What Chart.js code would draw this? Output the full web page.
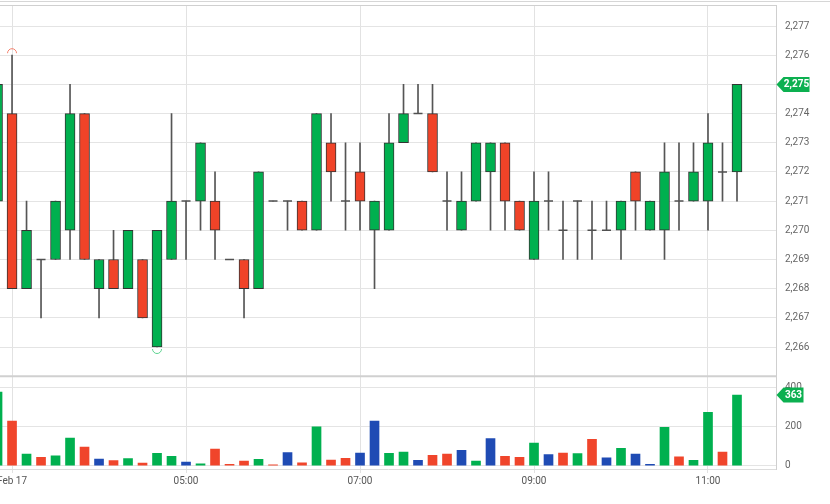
<!DOCTYPE html>
<html lang="en">
<head>
<meta charset="UTF-8">
<title>Candles and volume</title>
<script src="https://cdn.jsdelivr.net/npm/chart.js@4.4.2/dist/chart.umd.min.js"></script>
<style>
  html, body { margin: 0; padding: 0; background: #fff; }
  #wrap { position: relative; width: 830px; height: 504px; }
  #topline { position: absolute; left: 0; top: 1px; width: 830px; height: 1px; background: #d6d6d6; }
</style>
</head>
<body>
<div id="wrap">
  <canvas id="chart" width="830" height="504"></canvas>
  <div id="topline"></div>
</div>
<script>
// --- data (10 minute candles) ---
const times = [
  '02:50', '03:00', '03:10', '03:20', '03:30', '03:40', '03:50',
  '04:00', '04:10', '04:20', '04:30', '04:40', '04:50',
  '05:00', '05:10', '05:20', '05:30', '05:40', '05:50',
  '06:00', '06:10', '06:20', '06:30', '06:40', '06:50',
  '07:00', '07:10', '07:20', '07:30', '07:40', '07:50',
  '08:00', '08:10', '08:20', '08:30', '08:40', '08:50',
  '09:00', '09:10', '09:20', '09:30', '09:40', '09:50',
  '10:00', '10:10', '10:20', '10:30', '10:40', '10:50',
  '11:00', '11:10', '11:20'
];
const opens = [
  2271, 2274, 2268, 2269, 2269, 2270, 2274,
  2268, 2269, 2268, 2269, 2266, 2269,
  2271, 2271, 2271, 2269, 2269, 2268,
  2271, 2271, 2271, 2270, 2273, 2271,
  2272, 2270, 2270, 2273, 2274, 2274,
  2271, 2270, 2271, 2272, 2273, 2271,
  2269, 2271, 2270, 2271, 2270, 2270,
  2270, 2272, 2270, 2270, 2271, 2271,
  2271, 2272, 2272
];
const highs = [
  2275, 2276, 2271, 2269, 2271, 2275, 2274,
  2269, 2270, 2270, 2269, 2270, 2274,
  2271, 2273, 2272, 2269, 2269, 2272,
  2271, 2271, 2271, 2274, 2274, 2273,
  2273, 2271, 2274, 2275, 2275, 2275,
  2272, 2272, 2273, 2273, 2273, 2271,
  2272, 2272, 2271, 2271, 2271, 2271,
  2271, 2272, 2271, 2273, 2273, 2273,
  2274, 2273, 2275
];
const lows = [
  2271, 2268, 2268, 2267, 2269, 2269, 2269,
  2267, 2268, 2268, 2267, 2266, 2269,
  2269, 2270, 2269, 2269, 2267, 2268,
  2271, 2270, 2270, 2270, 2271, 2270,
  2270, 2268, 2270, 2273, 2274, 2272,
  2270, 2270, 2271, 2270, 2270, 2270,
  2269, 2270, 2269, 2269, 2269, 2270,
  2269, 2270, 2270, 2269, 2270, 2271,
  2270, 2271, 2271
];
const closes = [
  2275, 2268, 2270, 2269, 2271, 2274, 2269,
  2269, 2268, 2270, 2267, 2270, 2271,
  2271, 2273, 2270, 2269, 2268, 2272,
  2271, 2271, 2270, 2274, 2272, 2271,
  2271, 2271, 2273, 2274, 2274, 2272,
  2271, 2271, 2273, 2273, 2271, 2270,
  2271, 2271, 2270, 2271, 2270, 2270,
  2271, 2271, 2271, 2272, 2271, 2272,
  2273, 2272, 2275
];
const volumes = [
  379, 229, 60, 43, 51, 142, 96,
  34, 26, 37, 14, 63, 48,
  19, 9, 86, 7, 24, 33,
  4, 67, 15, 200, 29, 38,
  65, 229, 63, 70, 28, 53,
  60, 79, 24, 140, 48, 43,
  116, 57, 65, 62, 135, 41,
  89, 60, 7, 197, 46, 28,
  274, 70, 363
];
const volumeSide = [
  'buy', 'sell', 'buy', 'sell', 'buy', 'buy', 'sell',
  'mixed', 'sell', 'buy', 'sell', 'buy', 'buy',
  'mixed', 'buy', 'sell', 'sell', 'sell', 'buy',
  'sell', 'mixed', 'sell', 'buy', 'sell', 'sell',
  'mixed', 'mixed', 'buy', 'buy', 'mixed', 'sell',
  'sell', 'mixed', 'buy', 'mixed', 'sell', 'sell',
  'buy', 'mixed', 'sell', 'buy', 'sell', 'mixed',
  'buy', 'mixed', 'mixed', 'buy', 'sell', 'buy',
  'buy', 'sell', 'buy'
];
const priceTicks = [2266, 2267, 2268, 2269, 2270, 2271, 2272, 2273, 2274, 2275, 2276, 2277];
const volumeTicks = [0, 200, 400];
const xTickTimes = ['03:00', '05:00', '07:00', '09:00', '11:00'];
const xTickLabels = ['Feb 17', '05:00', '07:00', '09:00', '11:00'];

// --- colours ---
const UP = '#00b04f';
const DOWN = '#f04328';
const sideColor = { buy: '#00b04f', sell: '#f0452b', mixed: '#1f4bb4' };

const toMin = t => { const [h, m] = t.split(':').map(Number); return h * 60 + m; };
const xs = times.map(toMin);
const last = times.length - 1;

Chart.defaults.font.family = 'Roboto, "Open Sans", sans-serif';
Chart.defaults.font.size = 10;
Chart.defaults.color = '#666';

// fixed axis sizes, and no extra room for overflowing labels
const fixWidth = s => { s.width = 54; s.paddingTop = 0; s.paddingBottom = 0; };

function drawTag(ctx, xTip, yc, text, w) {
  const h = 15, a = 7;
  ctx.fillStyle = '#0cb050';
  ctx.beginPath();
  ctx.moveTo(xTip, yc);
  ctx.lineTo(xTip + a, yc - h / 2);
  ctx.lineTo(xTip + a + w, yc - h / 2);
  ctx.lineTo(xTip + a + w, yc + h / 2);
  ctx.lineTo(xTip + a, yc + h / 2);
  ctx.closePath();
  ctx.fill();
  ctx.fillStyle = '#fff';
  ctx.font = 'bold 10px Roboto, sans-serif';
  ctx.textAlign = 'center';
  ctx.textBaseline = 'middle';
  ctx.fillText(text, xTip + a + w / 2, yc + 0.5);
}

const overlay = {
  id: 'overlay',
  afterDraw(chart) {
    const { ctx, chartArea } = chart;
    const x = chart.scales.x, y = chart.scales.y, v = chart.scales.v;
    ctx.save();
    // pane frame
    ctx.strokeStyle = '#d0d0d0';
    ctx.lineWidth = 1;
    ctx.beginPath();
    ctx.moveTo(0, chartArea.top + 0.5);
    ctx.lineTo(chartArea.right, chartArea.top + 0.5);
    ctx.stroke();
    ctx.lineWidth = 2;
    ctx.beginPath();
    ctx.moveTo(0, v.top);
    ctx.lineTo(chartArea.right, v.top);
    ctx.stroke();

    // highest high / lowest low markers
    let hi = 0, lo = 0;
    highs.forEach((h, i) => { if (h > highs[hi]) hi = i; });
    lows.forEach((l, i) => { if (l < lows[lo]) lo = i; });
    ctx.lineWidth = 1;
    ctx.strokeStyle = '#f4806c';
    ctx.beginPath();
    ctx.arc(x.getPixelForValue(xs[hi]), y.getPixelForValue(highs[hi]) - 2, 4.5, Math.PI, 2 * Math.PI);
    ctx.stroke();
    ctx.strokeStyle = '#5ed490';
    ctx.beginPath();
    ctx.arc(x.getPixelForValue(xs[lo]), y.getPixelForValue(lows[lo]) + 2, 4.5, 0, Math.PI);
    ctx.stroke();

    // last value tags
    drawTag(ctx, chartArea.right + 0.5, y.getPixelForValue(closes[last]), closes[last].toLocaleString('en-US'), 26);
    drawTag(ctx, chartArea.right + 0.5, v.getPixelForValue(volumes[last]), String(volumes[last]), 20);
    ctx.restore();
  }
};

new Chart(document.getElementById('chart'), {
  type: 'bar',
  data: {
    datasets: [
      {
        label: 'Wick',
        data: xs.map((t, i) => ({ x: t, y: [lows[i], highs[i]] })),
        xAxisID: 'x', yAxisID: 'y',
        backgroundColor: '#555',
        barThickness: 1,
        grouped: false,
        order: 3
      },
      {
        label: 'Body',
        data: xs.map((t, i) => ({ x: t, y: opens[i] === closes[i] ? null : [opens[i], closes[i]] })),
        xAxisID: 'x', yAxisID: 'y',
        backgroundColor: opens.map((o, i) => closes[i] > o ? UP : DOWN),
        borderColor: '#333',
        borderWidth: 1,
        borderSkipped: false,
        barThickness: 10,
        grouped: false,
        order: 2
      },
      {
        type: 'line',
        label: 'Doji',
        data: xs.map((t, i) => ({ x: t, y: opens[i] })).filter((p, i) => opens[i] === closes[i]),
        xAxisID: 'x', yAxisID: 'y',
        showLine: false,
        pointStyle: 'line',
        pointRadius: 4.5,
        borderColor: '#505050',
        borderWidth: 1.5,
        order: 1
      },
      {
        label: 'Volume',
        data: xs.map((t, i) => ({ x: t, y: volumes[i] })),
        xAxisID: 'x', yAxisID: 'v',
        backgroundColor: volumeSide.map(s => sideColor[s]),
        barThickness: 9,
        grouped: false,
        order: 4
      }
    ]
  },
  options: {
    responsive: false,
    animation: false,
    events: [],
    layout: { autoPadding: false, padding: { top: 5, left: 0, right: 0, bottom: 0 } },
    plugins: { legend: { display: false }, tooltip: { enabled: false } },
    scales: {
      x: {
        type: 'linear',
        position: 'bottom',
        min: 171.7,
        max: 706.9,
        offset: false,
        grid: { offset: false, color: '#e2e2e2', tickLength: 4 },
        border: { color: '#dcdcdc' },
        afterBuildTicks: s => { s.ticks = xTickTimes.map(t => ({ value: toMin(t) })); },
        afterFit: s => { s.height = 35; s.paddingLeft = 0; s.paddingRight = 0; },
        ticks: {
          padding: 2,
          color: '#555',
          maxRotation: 0,
          callback: val => xTickLabels[xTickTimes.map(toMin).indexOf(val)]
        }
      },
      y: {
        type: 'linear',
        axis: 'y',
        position: 'right',
        stack: 'panes',
        stackWeight: 4,
        min: 2265,
        max: 2277.72,
        beginAtZero: false,
        grid: { color: '#e4e4e4', drawTicks: false },
        border: { color: '#cfcfcf' },
        afterBuildTicks: s => { s.ticks = priceTicks.map(p => ({ value: p })); },
        afterFit: fixWidth,
        ticks: { padding: 9, callback: val => val.toLocaleString('en-US') }
      },
      v: {
        type: 'linear',
        axis: 'y',
        position: 'right',
        stack: 'panes',
        stackWeight: 1,
        min: -17,
        max: 460,
        beginAtZero: false,
        grid: { color: '#e4e4e4', drawTicks: false },
        border: { color: '#cfcfcf' },
        afterBuildTicks: s => { s.ticks = volumeTicks.map(p => ({ value: p })); },
        afterFit: fixWidth,
        ticks: { padding: 9 }
      }
    }
  },
  plugins: [overlay]
});
</script>
</body>
</html>
